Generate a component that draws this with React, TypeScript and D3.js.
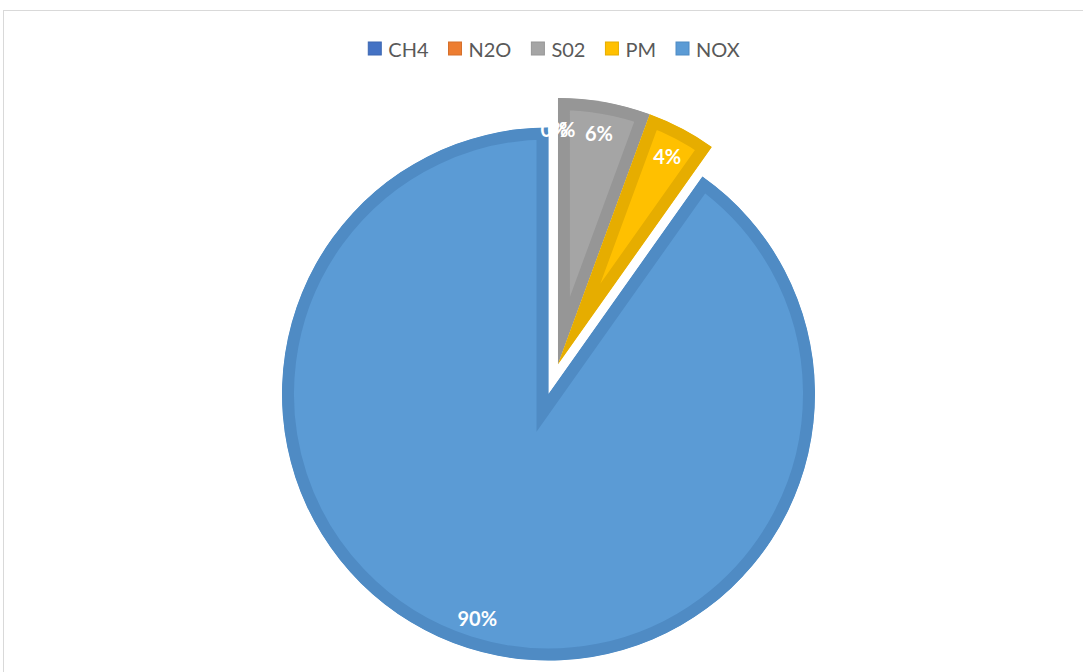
import React, { useMemo } from "react";
import * as d3 from "d3";

const categories = ["CH4", "N2O", "S02", "PM", "NOX"];
const values = [0, 0, 5.6, 4.2, 90.2];
const fills = ["#4472c4", "#ed7d31", "#a5a5a5", "#ffc000", "#5b9bd5"];
const borders = ["#3d67b1", "#d5702c", "#969696", "#e6ad00", "#4f8bc4"];
const exploded = [true, true, true, true, false];

const W = 1083;
const H = 672;
const CX = 548.5;
const CY = 394;
const R = 266.5;
const BORDER_W = 12;
const EXPLODE = 31;
const LABEL_R = 235;
const FONT = "Lato, 'Open Sans', sans-serif";

function measure(text: string, font: string): number {
  const c = document.createElement("canvas");
  const ctx = c.getContext("2d");
  if (!ctx) return text.length * 11;
  ctx.font = font;
  return ctx.measureText(text).width;
}

export default function App() {
  const pie = d3
    .pie<number>()
    .sort(null)
    .value((d) => d)(values);
  const arc = d3.arc<d3.PieArcDatum<number>>().innerRadius(0).outerRadius(R);

  // exploded group direction
  const exArcs = pie.filter((_, i) => exploded[i]);
  const gStart = d3.min(exArcs, (a) => a.startAngle) ?? 0;
  const gEnd = d3.max(exArcs, (a) => a.endAngle) ?? 0;
  const gMid = (gStart + gEnd) / 2;
  const exOff: [number, number] = [EXPLODE * Math.sin(gMid), -EXPLODE * Math.cos(gMid)];

  const total = d3.sum(values);
  const fmt = d3.format(".0%");

  // legend layout
  const legendFont = `20px ${FONT}`;
  const marker = 13;
  const gapMT = 7;
  const gapItem = 20;
  const widths = useMemo(() => categories.map((c) => measure(c, legendFont)), []);
  const itemW = widths.map((w) => marker + gapMT + w);
  const totalLegend = d3.sum(itemW) + gapItem * (categories.length - 1);
  const legendStart = 554 - totalLegend / 2;
  const legendX: number[] = [];
  let acc = legendStart;
  itemW.forEach((w) => {
    legendX.push(acc);
    acc += w + gapItem;
  });
  const legendY = 48.5;

  let zeroCount = 0;
  const zeroTotal = values.filter((v) => v === 0).length;

  return (
    <svg
      width={W}
      height={H}
      style={{ position: "absolute", left: 0, top: 0, background: "#fff" }}
    >
      <defs>
        {pie.map((p, i) => (
          <clipPath id={`clip-${i}`} key={i}>
            <path d={arc(p) || ""} />
          </clipPath>
        ))}
      </defs>
      <rect x={3.5} y={10.5} width={W + 20} height={H + 20} fill="#fff" stroke="#d9d9d9" strokeWidth={1} />

      {pie.map((p, i) => {
        if (p.endAngle - p.startAngle <= 0) return null;
        const off = exploded[i] ? exOff : [0, 0];
        return (
          <g key={i} transform={`translate(${CX + off[0]},${CY + off[1]})`}>
            <path
              d={arc(p) || ""}
              fill={fills[i]}
              stroke={borders[i]}
              strokeWidth={BORDER_W * 2}
              strokeLinejoin="miter"
              clipPath={`url(#clip-${i})`}
            />
          </g>
        );
      })}

      {pie.map((p, i) => {
        const off = exploded[i] ? exOff : [0, 0];
        const mid = (p.startAngle + p.endAngle) / 2;
        let x = CX + off[0] + LABEL_R * Math.sin(mid);
        const y = CY + off[1] - LABEL_R * Math.cos(mid);
        if (values[i] === 0) {
          x += (zeroCount - (zeroTotal - 1) / 2) * 7;
          zeroCount++;
        }
        return (
          <text
            key={`l${i}`}
            x={x}
            y={y}
            textAnchor="middle"
            dominantBaseline="central"
            fill="#ffffff"
            fontFamily={FONT}
            fontWeight={700}
            fontSize={20}
          >
            {fmt(values[i] / total)}
          </text>
        );
      })}

      {categories.map((c, i) => (
        <g key={`lg${i}`}>
          <rect
            x={legendX[i]}
            y={legendY - marker / 2}
            width={marker}
            height={marker}
            fill={fills[i]}
            stroke={borders[i]}
            strokeWidth={1}
          />
          <text
            x={legendX[i] + marker + gapMT}
            y={legendY}
            dominantBaseline="central"
            fill="#595959"
            fontFamily={FONT}
            fontSize={20}
          >
            {c}
          </text>
        </g>
      ))}
    </svg>
  );
}
